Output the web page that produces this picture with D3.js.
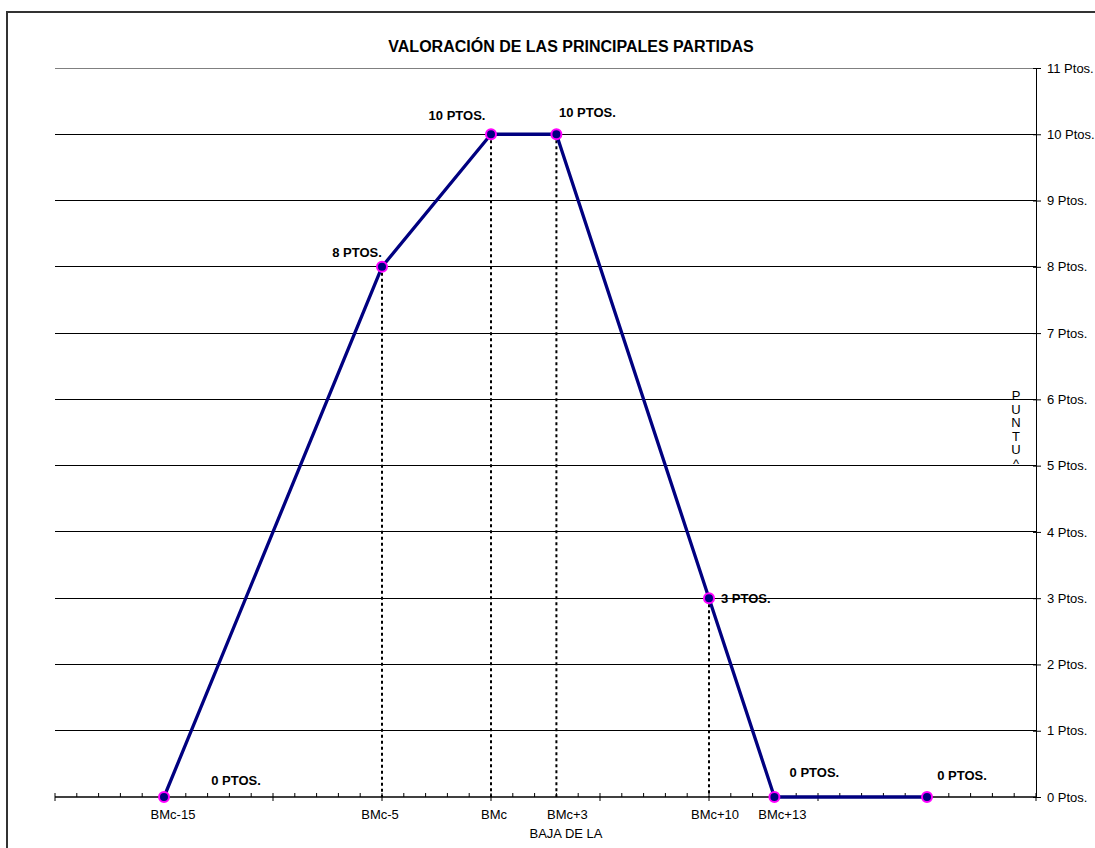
<!DOCTYPE html>
<html>
<head>
<meta charset="utf-8">
<script src="https://cdn.jsdelivr.net/npm/d3@7"></script>
<style>
  html, body { margin: 0; padding: 0; background: #fff; }
  svg { display: block; font-family: "Liberation Sans", Arial, sans-serif; }
</style>
</head>
<body>
<div id="chart"></div>
<script>
// Chart values
const positions = [-15, -5, 0, 3, 10, 13, 20];
const scores = [0, 8, 10, 10, 3, 0, 0];
const categoryLabels = ['BMc-15', 'BMc-5', 'BMc', 'BMc+3', 'BMc+10', 'BMc+13', ''];
const pointLabels = ['0 PTOS.', '8 PTOS.', '10 PTOS.', '10 PTOS.', '3 PTOS.', '0 PTOS.', '0 PTOS.'];
const yTicks = [0, 1, 2, 3, 4, 5, 6, 7, 8, 9, 10, 11];
const yTickLabels = yTicks.map(d => d + ' Ptos.');
const dropLineIdx = [1, 2, 3, 4];

const width = 1095, height = 848;
const svg = d3.select('#chart').append('svg')
    .attr('width', width)
    .attr('height', height);

// outer frame (runs off the bottom/right like the original)
svg.append('rect')
    .attr('x', 7).attr('y', 12)
    .attr('width', 1200).attr('height', 900)
    .attr('fill', 'none')
    .attr('stroke', '#333')
    .attr('stroke-width', 2);

const x = d3.scaleLinear().domain([-20, 25]).range([55, 1036]);
const y = d3.scaleLinear().domain([0, 11]).range([797, 68]);

// title
svg.append('text')
    .attr('x', 571).attr('y', 52)
    .attr('text-anchor', 'middle')
    .attr('font-size', 16).attr('font-weight', 'bold')
    .text('VALORACIÓN DE LAS PRINCIPALES PARTIDAS');

// horizontal gridlines
svg.append('g').selectAll('line')
    .data(yTicks.filter(d => d > 0))
    .enter().append('line')
    .attr('x1', x(-20)).attr('x2', x(25))
    .attr('y1', d => y(d)).attr('y2', d => y(d))
    .attr('stroke', d => d === 11 ? '#808080' : '#000')
    .attr('stroke-width', 1)
    .attr('shape-rendering', 'crispEdges');

// right value axis
const yAxis = d3.axisRight(y)
    .tickValues(yTicks)
    .tickFormat((d, i) => yTickLabels[i])
    .tickSize(5)
    .tickPadding(6);
const gy = svg.append('g')
    .attr('transform', `translate(${x(25)},0)`)
    .call(yAxis);
gy.select('.domain').attr('stroke', '#000').attr('shape-rendering', 'crispEdges');
gy.selectAll('.tick line').attr('x1', -3).attr('stroke', '#000');
gy.selectAll('.tick text')
    .attr('font-family', '"Liberation Sans", Arial, sans-serif')
    .attr('font-size', 13).attr('fill', '#000');

// bottom axis: minor ticks every unit, major every 5
const minor = d3.range(-20, 26, 1);
const gx = svg.append('g');
gx.append('line')
    .attr('x1', x(-20)).attr('x2', x(25))
    .attr('y1', y(0)).attr('y2', y(0))
    .attr('stroke', '#000').attr('stroke-width', 1.5);
gx.selectAll('.tk')
    .data(minor)
    .enter().append('line')
    .attr('x1', d => x(d)).attr('x2', d => x(d))
    .attr('y1', d => d % 5 === 0 ? y(0) + 4 : y(0))
    .attr('y2', y(0) - 4)
    .attr('stroke', '#000').attr('stroke-width', 1);

// category labels under the points (Excel nudged them a little)
const catNudge = [9, -2, 3, 11, 6, 8, 0];
gx.selectAll('.cat')
    .data(positions)
    .enter().append('text')
    .attr('x', (d, i) => x(d) + catNudge[i]).attr('y', y(0) + 22)
    .attr('text-anchor', 'middle')
    .attr('font-size', 13)
    .text((d, i) => categoryLabels[i]);

// x axis title (clipped in the original)
svg.append('text')
    .attr('x', 566).attr('y', 838)
    .attr('text-anchor', 'middle')
    .attr('font-size', 13)
    .text('BAJA DE LA');

// y axis title, stacked letters (clipped in the original)
svg.append('text')
    .attr('font-size', 13)
    .attr('text-anchor', 'middle')
    .selectAll('tspan')
    .data(['P', 'U', 'N', 'T', 'U', '^'])
    .enter().append('tspan')
    .attr('x', 1016)
    .attr('y', (d, i) => 400 + i * 13.5)
    .text(d => d);

// drop lines
svg.append('g').selectAll('line')
    .data(dropLineIdx)
    .enter().append('line')
    .attr('x1', i => x(positions[i])).attr('x2', i => x(positions[i]))
    .attr('y1', i => y(scores[i])).attr('y2', y(0))
    .attr('stroke', '#000').attr('stroke-width', 2)
    .attr('stroke-dasharray', '3,3');

// the series line
const data = positions.map((p, i) => ({ p, v: scores[i], label: pointLabels[i] }));
const line = d3.line().x(d => x(d.p)).y(d => y(d.v));
svg.append('path')
    .datum(data)
    .attr('d', line)
    .attr('fill', 'none')
    .attr('stroke', '#000080')
    .attr('stroke-width', 3.3)
    .attr('stroke-linejoin', 'round');

svg.append('g').selectAll('circle')
    .data(data)
    .enter().append('circle')
    .attr('cx', d => x(d.p)).attr('cy', d => y(d.v))
    .attr('r', 5)
    .attr('fill', '#000080')
    .attr('stroke', '#ff00ff')
    .attr('stroke-width', 2);

// data labels, offsets as Excel placed them
const labelOffsets = [[72, -12], [-25, -10], [-34, -14], [31, -17], [12, 5], [40, -20], [35, -17]];
svg.append('g').selectAll('text')
    .data(data)
    .enter().append('text')
    .attr('x', (d, i) => x(d.p) + labelOffsets[i][0])
    .attr('y', (d, i) => y(d.v) + labelOffsets[i][1])
    .attr('text-anchor', (d, i) => i === 4 ? 'start' : 'middle')
    .attr('font-size', 13).attr('font-weight', 'bold')
    .text(d => d.label);
</script>
</body>
</html>
